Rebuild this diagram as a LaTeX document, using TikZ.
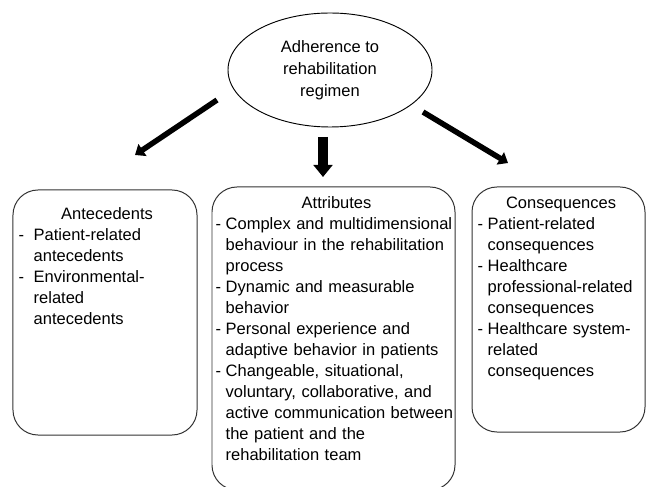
\documentclass[tikz,border=0pt]{standalone}
\usepackage{fontspec}
\setmainfont{Liberation Sans}
\usetikzlibrary{arrows.meta,shapes.geometric}
\def\px{0.03cm}
\newlength{\dashw}
\setlength{\dashw}{0.3cm}
\newcommand{\ditem}[1]{\par\hangindent=\dashw\hangafter=1\noindent\makebox[\dashw][l]{-}#1\par}

\begin{document}
\begin{tikzpicture}[x=\px,y=-\px]
    \tikzstyle{concept}=[ellipse,draw=black,line width=0.8pt,minimum width=6.12cm,minimum height=3.42cm,inner sep=0pt]
    \tikzstyle{panel}=[draw=black!80,line width=0.85pt,rounded corners=0.75cm,inner sep=0pt]
    \tikzstyle{panel text}=[anchor=north west,inner sep=0pt,align=left,font=\fontsize{14.08}{17.93}\selectfont]
    \tikzstyle{thick arrow}=[line width=0.165cm,-{Triangle[length=0.27cm,width=0.42cm]}]
    \tikzstyle{main arrow}=[line width=0.3cm,-{Triangle[length=0.36cm,width=0.56cm]}]

    \useasboundingbox (0,0) rectangle (648,487);

    % Draw the central concept
    \node[concept,align=center,font=\fontsize{14.08}{18.78}\selectfont] (reg) at (330,70)
        {Adherence to\\rehabilitation\\regimen};

    % Draw the three panels
    \node[panel,minimum width=5.52cm,minimum height=7.35cm] (ante) at (105,312.5) {};
    \node[panel,minimum width=7.29cm,minimum height=9.09cm] (attr) at (333.5,338.5) {};
    \node[panel,minimum width=5.19cm,minimum height=7.35cm] (cons) at (558.5,309.5) {};

    % Panel contents
    \node[panel text,text width=5.3cm] (ante-t) at ([xshift=0.18cm,yshift=-0.54cm]ante.north west)
        {\setlength{\dashw}{0.45cm}\hfil Antecedents\hfil
         \ditem{Patient-related\newline antecedents}
         \ditem{Environmental-\newline related\newline antecedents}};
    \node[panel text,text width=7.25cm] (attr-t) at ([xshift=0.12cm,yshift=-0.3cm]attr.north west)
        {\hfil Attributes\hfil
         \ditem{Complex and multidimensional\newline behaviour in the rehabilitation\newline process}
         \ditem{Dynamic and measurable\newline behavior}
         \ditem{Personal experience and\newline adaptive behavior in patients}
         \ditem{Changeable, situational,\newline voluntary, collaborative, and\newline active communication between\newline the patient and the\newline rehabilitation team}};
    \node[panel text,text width=5.0cm] (cons-t) at ([xshift=0.18cm,yshift=-0.3cm]cons.north west)
        {\hfil Consequences\hfil
         \ditem{Patient-related\newline consequences}
         \ditem{Healthcare\newline professional-related\newline consequences}
         \ditem{Healthcare system-\newline related\newline consequences}};

    % Free ends of the arrows
    \coordinate (l-start) at (217,100);
    \coordinate (l-end) at (135,155);
    \coordinate (m-start) at (323,137);
    \coordinate (m-end) at (323,177);
    \coordinate (r-start) at (423,112);
    \coordinate (r-end) at (508,163);

    % Connect the concept with the panels
    \draw[thick arrow] (l-start) -- (l-end);
    \draw[main arrow] (m-start) -- (m-end);
    \draw[thick arrow] (r-start) -- (r-end);
\end{tikzpicture}
\end{document}
